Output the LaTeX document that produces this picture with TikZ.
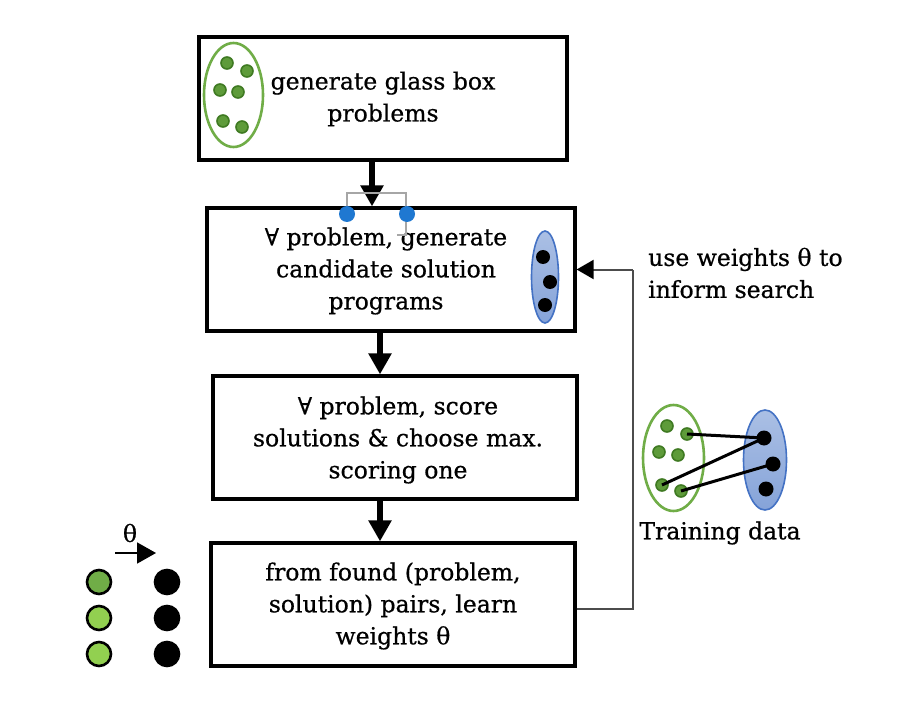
\documentclass[tikz,border=0pt]{standalone}
\usepackage{fontspec}
\setmainfont{DejaVu Serif}[FakeBold=0.7]
\usetikzlibrary{arrows.meta,shapes.geometric,calc}
\definecolor{gdot}{HTML}{5E9B3A}
\definecolor{gdotline}{HTML}{3F7A22}
\definecolor{gell}{HTML}{70AD47}
\definecolor{bell}{HTML}{4472C4}
\definecolor{lgreen}{HTML}{92D050}
\definecolor{mgreen}{HTML}{70AD47}
\definecolor{handle}{HTML}{1F78D1}
\tikzset{
  box/.style={draw=black, line width=3.2pt, fill=white, align=center, inner sep=0pt},
  flow/.style={line width=6.5pt, -{Triangle[length=21pt,width=22pt]}},
  fb/.style={draw=black!70, line width=2pt},
  gd/.style={circle, draw=gdotline, fill=gdot, line width=1.6pt, minimum size=12pt, inner sep=0pt},
  bd/.style={circle, fill=black, minimum size=14pt, inner sep=0pt},
  gellipse/.style={ellipse, draw=gell, line width=2.6pt, inner sep=0pt},
  bellipse/.style={ellipse, draw=bell, line width=1.6pt, top color=bell!45, bottom color=bell!65, inner sep=0pt},
  bigc/.style={circle, draw=black, line width=2.6pt, minimum size=24pt, inner sep=0pt},
  txt/.style={font=\fontsize{23.5}{32}\selectfont, inner sep=0pt},
  link/.style={line width=3pt, black}
}
\begin{document}
\begin{tikzpicture}[x=1pt,y=-1pt]
\useasboundingbox (0,0) rectangle (904,703);
\fill[white] (0,0) rectangle (904,703);

% boxes
\node[box, minimum width=368pt, minimum height=123pt] (b1) at (383,98.5) {};
\node[txt, align=center] (t1) at (383,99) {generate glass box\\problems};
\node[box, minimum width=368pt, minimum height=123pt] (b2) at (391,269.5) {};
\node[txt, align=center] (t2) at (386,271) {∀ problem, generate\\candidate solution\\programs};
\node[box, minimum width=364pt, minimum height=123pt] (b3) at (395,437.5) {};
\node[txt, align=center] (t3) at (398,440) {∀ problem, score\\solutions \& choose max.\\scoring one};
\node[box, minimum width=364pt, minimum height=123pt] (b4) at (393,604.5) {};
\node[txt, align=center] (t4) at (393,606) {from found (problem,\\solution) pairs, learn\\weights θ};

% flow arrows
\draw[flow] (b1.south -| 372,0) -- (b2.north -| 372,0);
\draw[flow] (b2.south -| 380,0) -- (b3.north -| 380,0);
\draw[flow] (b3.south -| 380,0) -- (b4.north -| 380,0);

% selection handles
\draw[black!35, line width=1.4pt] (347,213) -- (347,193) -- (406,193) -- (406,235) -- (397,235);
\node[circle, fill=handle, minimum size=16pt, inner sep=0pt] (h1) at (347,214) {};
\node[circle, fill=handle, minimum size=16pt, inner sep=0pt] (h2) at (407,214) {};

% green ellipse in box 1
\node[gellipse, minimum width=59pt, minimum height=104pt] (ge1) at (233.5,95) {};
\foreach \x/\y [count=\i] in {227/63, 247/71, 220/90, 238/92, 223/121, 242/127}
  \node[gd] (g1\i) at (\x,\y) {};

% blue ellipse in box 2
\node[bellipse, minimum width=27pt, minimum height=92pt] (be2) at (545,277) {};
\foreach \x/\y [count=\i] in {543/257, 550/282, 545/305}
  \node[bd] (k2\i) at (\x,\y) {};

% feedback connector
\coordinate (fbA) at ($(b4.east)+(0,4)$);
\coordinate (fbB) at (633,0);
\draw[fb] (fbA) -- (fbA -| fbB) -- (fbB |- b2.east);
\draw[fb, -{Triangle[length=17pt,width=19pt,color=black]}] (fbB |- b2.east) -- (b2.east);
\node[txt, align=left, anchor=west] (uw) at (648,273) {use weights θ to\\inform search};

% training data
\node[gellipse, minimum width=61pt, minimum height=106pt] (tg) at (673.5,458) {};
\node[bellipse, minimum width=43pt, minimum height=100pt] (tb) at (765,460) {};
\foreach \x/\y [count=\i] in {667/426, 687/434, 659/452, 678/455, 662/485, 681/491}
  \node[gd] (tgd\i) at (\x,\y) {};
\foreach \x/\y [count=\i] in {764/438, 773/464, 766/489}
  \node[bd, minimum size=15pt] (tbd\i) at (\x,\y) {};
\draw[link] (tgd2.center) -- (tbd1.center);
\draw[link] (tgd5.center) -- (tbd1.center);
\draw[link] (tgd6.center) -- (tbd2.center);
\node[txt] (td) at (720,533) {Training data};

% bottom-left legend
\node[txt] (th) at (130,533) {θ};
\coordinate (la) at (115,553);
\coordinate (lb) at (156,553);
\draw[line width=1.8pt, -{Triangle[length=19pt,width=21pt]}] (la) -- (lb);
\node[bigc, fill=mgreen] (c1) at (99,582) {};
\node[bigc, fill=lgreen] (c2) at (99,618) {};
\node[bigc, fill=lgreen] (c3) at (99,654) {};
\node[bigc, fill=black] (d1) at (167,582) {};
\node[bigc, fill=black] (d2) at (167,618) {};
\node[bigc, fill=black] (d3) at (167,654) {};
\end{tikzpicture}
\end{document}
